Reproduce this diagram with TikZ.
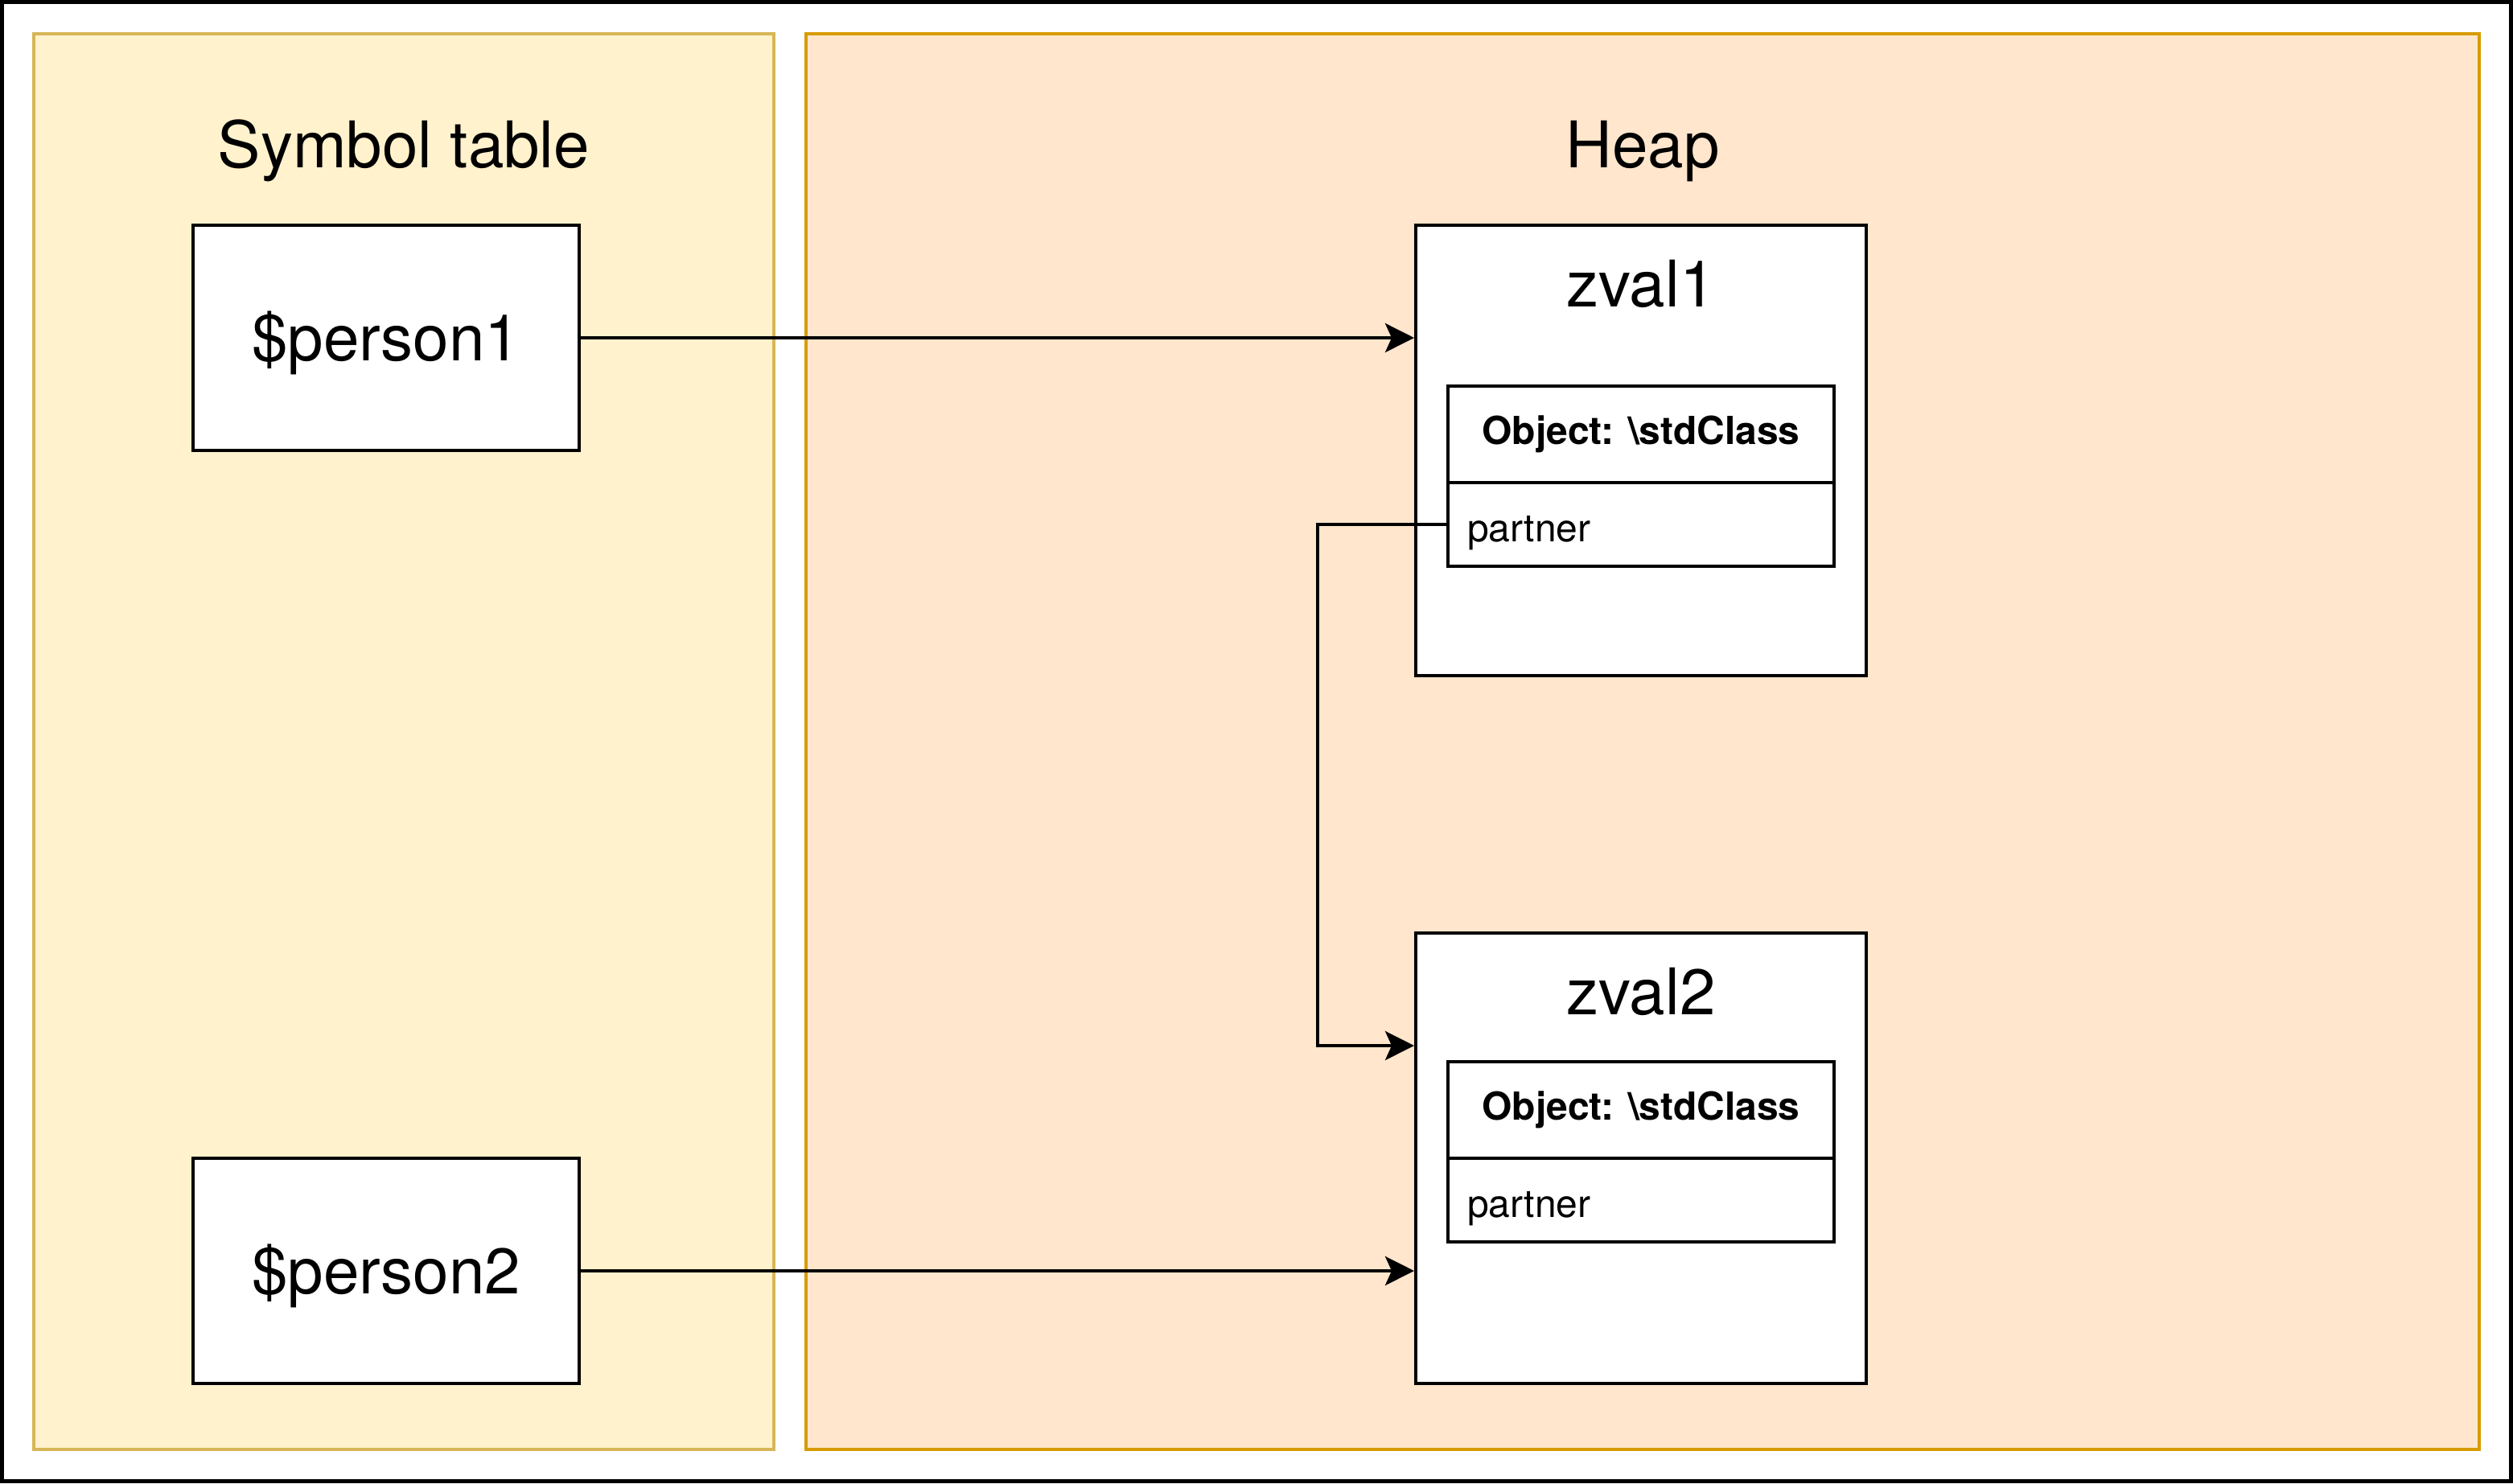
\documentclass[tikz,border=0pt]{standalone}
\usepackage{fontspec}
\setmainfont{TeX Gyre Heros}
\usetikzlibrary{arrows.meta}
\definecolor{symfill}{HTML}{FFF2CC}
\definecolor{symline}{HTML}{D6B656}
\definecolor{heapfill}{HTML}{FFE6CC}
\definecolor{heapline}{HTML}{D79B00}
\begin{document}
\begin{tikzpicture}[x=1pt, y=-1pt, line width=1pt]
      \tikzstyle{panel} = [rectangle, inner sep=0pt, line width=1pt]
      \tikzstyle{varbox} = [draw=black, fill=white, rectangle, minimum width=120pt, minimum height=70pt, text height=15pt, text depth=1pt, font=\fontsize{20}{24}\selectfont]
      \tikzstyle{zbox} = [draw=black, fill=white, rectangle, minimum width=140pt, minimum height=140pt]
      \tikzstyle{objhead} = [draw=black, fill=white, rectangle, minimum width=120pt, minimum height=30pt, inner sep=0pt, font=\fontsize{12}{14}\selectfont\bfseries]
      \tikzstyle{objrow} = [draw=black, fill=white, rectangle, text width=108pt, inner xsep=6pt, inner ysep=0pt, minimum height=26pt, text height=13pt, text depth=2.4pt, align=left, font=\fontsize{12}{14}\selectfont]
      \tikzstyle{title} = [anchor=base, inner sep=0pt, font=\fontsize{20}{24}\selectfont]
      \tikzstyle{link} = [-{Stealth[length=9pt, width=9pt, inset=2pt]}, line width=1pt]

      \useasboundingbox (0,0) rectangle (781,461);
      \draw[line width=1.2pt] (0.6,0.6) rectangle (780.4,460.4);

      % the two areas
      \node[panel, draw=symline, fill=symfill, minimum width=230pt, minimum height=440pt] (symtab) at (125.5,230.5) {};
      \node[panel, draw=heapline, fill=heapfill, minimum width=520pt, minimum height=440pt] (heap) at (510.5,230.5) {};
      \node[title] (symtabt) at (125.5,52) {Symbol table};
      \node[title] (heapt) at (510.5,52) {Heap};

      % variables
      \node[varbox] (person1) at (120,105) {\$person1};
      \node[varbox] (person2) at (120,395) {\$person2};

      % zvals
      \node[zbox] (zval1) at (510,140) {};
      \node[title] (zval1t) at (510,95.3) {zval1};
      \node[objhead] (obj1h) at (510,135) {Object: \textbackslash stdClass};
      \node[objrow] (obj1p) at (510,163) {partner};

      \node[zbox] (zval2) at (510,360) {};
      \node[title] (zval2t) at (510,315.3) {zval2};
      \node[objhead] (obj2h) at (510,345) {Object: \textbackslash stdClass};
      \node[objrow] (obj2p) at (510,373) {partner};

      \draw[link] (person1) -- (person1 -| zval1.west);
      \draw[link] (person2) -- (person2 -| zval2.west);
      \draw[link] (obj1p.west) -- ++(-40,0) |- ([yshift=35pt]zval2.west);
\end{tikzpicture}
\end{document}
